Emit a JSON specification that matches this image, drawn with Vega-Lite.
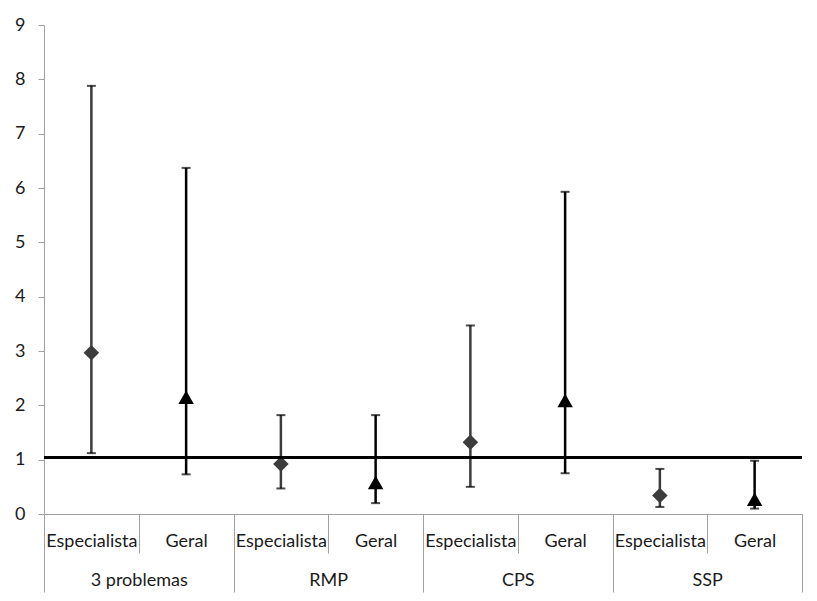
{
  "$schema": "https://vega.github.io/schema/vega-lite/v6.json",
  "width": 758,
  "height": 489,
  "autosize": {"type": "none"},
  "padding": {"left": 44, "top": 25, "right": 15, "bottom": 87},
  "background": "white",
  "config": {
    "view": {"stroke": null},
    "font": "Lato",
    "axis": {"labelFont": "Lato", "labelFontSize": 18, "labelColor": "#1a1a1a", "grid": false, "title": null}
  },
  "data": {
    "values": [
      {"key": "3 problemas|Especialista", "grupo": "3 problemas", "tipo": "Especialista", "or": 2.97, "low": 1.12, "high": 7.88},
      {"key": "3 problemas|Geral", "grupo": "3 problemas", "tipo": "Geral", "or": 2.15, "low": 0.73, "high": 6.37},
      {"key": "RMP|Especialista", "grupo": "RMP", "tipo": "Especialista", "or": 0.92, "low": 0.47, "high": 1.82},
      {"key": "RMP|Geral", "grupo": "RMP", "tipo": "Geral", "or": 0.58, "low": 0.2, "high": 1.82},
      {"key": "CPS|Especialista", "grupo": "CPS", "tipo": "Especialista", "or": 1.32, "low": 0.5, "high": 3.47},
      {"key": "CPS|Geral", "grupo": "CPS", "tipo": "Geral", "or": 2.09, "low": 0.75, "high": 5.93},
      {"key": "SSP|Especialista", "grupo": "SSP", "tipo": "Especialista", "or": 0.34, "low": 0.13, "high": 0.83},
      {"key": "SSP|Geral", "grupo": "SSP", "tipo": "Geral", "or": 0.27, "low": 0.1, "high": 0.98}
    ]
  },
  "resolve": {"scale": {"x": "independent"}, "axis": {"x": "independent"}},
  "layer": [
    {
      "encoding": {
        "x": {
          "field": "key", "type": "nominal", "sort": null,
          "scale": {"paddingInner": 0, "paddingOuter": 0},
          "axis": {
            "orient": "bottom",
            "labelExpr": "split(datum.label, '|')[1]",
            "labelAngle": 0,
            "tickBand": "extent",
            "tickSize": 39,
            "tickColor": "#a0a0a0",
            "domainColor": "#a0a0a0",
            "labelPadding": -12,
            "labelBaseline": "middle"
          }
        }
      },
      "layer": [
        {
          "mark": {"type": "rule", "strokeWidth": 2.5},
          "encoding": {
            "y": {"field": "low", "type": "quantitative", "scale": {"domain": [0, 9], "nice": false},
              "axis": {"values": [0,1,2,3,4,5,6,7,8,9], "format": "d", "tickSize": 6, "labelPadding": 13, "domainColor": "#a0a0a0", "tickColor": "#a0a0a0"}},
            "y2": {"field": "high"},
            "color": {"field": "tipo", "type": "nominal", "scale": {"domain": ["Especialista", "Geral"], "range": ["#3c3c3c", "#000000"]}, "legend": null}
          }
        },
        {
          "mark": {"type": "tick", "orient": "horizontal", "size": 9, "thickness": 2, "color": "black"},
          "encoding": {"y": {"field": "high", "type": "quantitative"}}
        },
        {
          "mark": {"type": "tick", "orient": "horizontal", "size": 9, "thickness": 2, "color": "black"},
          "encoding": {"y": {"field": "low", "type": "quantitative"}}
        },
        {
          "mark": {"type": "point", "filled": true, "opacity": 1, "size": 240},
          "encoding": {
            "y": {"field": "or", "type": "quantitative"},
            "shape": {"field": "tipo", "type": "nominal", "scale": {"domain": ["Especialista", "Geral"], "range": ["diamond", "triangle-up"]}, "legend": null},
            "color": {"field": "tipo", "type": "nominal", "scale": {"domain": ["Especialista", "Geral"], "range": ["#5a5a5a", "#000000"]}, "legend": null}
          }
        }
      ]
    },
    {
      "mark": {"type": "point", "opacity": 0},
      "encoding": {
        "x": {
          "field": "grupo", "type": "nominal", "sort": null,
          "scale": {"paddingInner": 0, "paddingOuter": 0},
          "axis": {
            "orient": "bottom",
            "labelAngle": 0,
            "tickBand": "extent",
            "tickSize": 78,
            "tickColor": "#a0a0a0",
            "domain": false,
            "labelPadding": -12,
            "labelBaseline": "middle"
          }
        }
      }
    },
    {
      "mark": {"type": "rule", "strokeWidth": 2.5, "color": "black"},
      "encoding": {"y": {"datum": 1.04, "type": "quantitative"}}
    }
  ]
}
